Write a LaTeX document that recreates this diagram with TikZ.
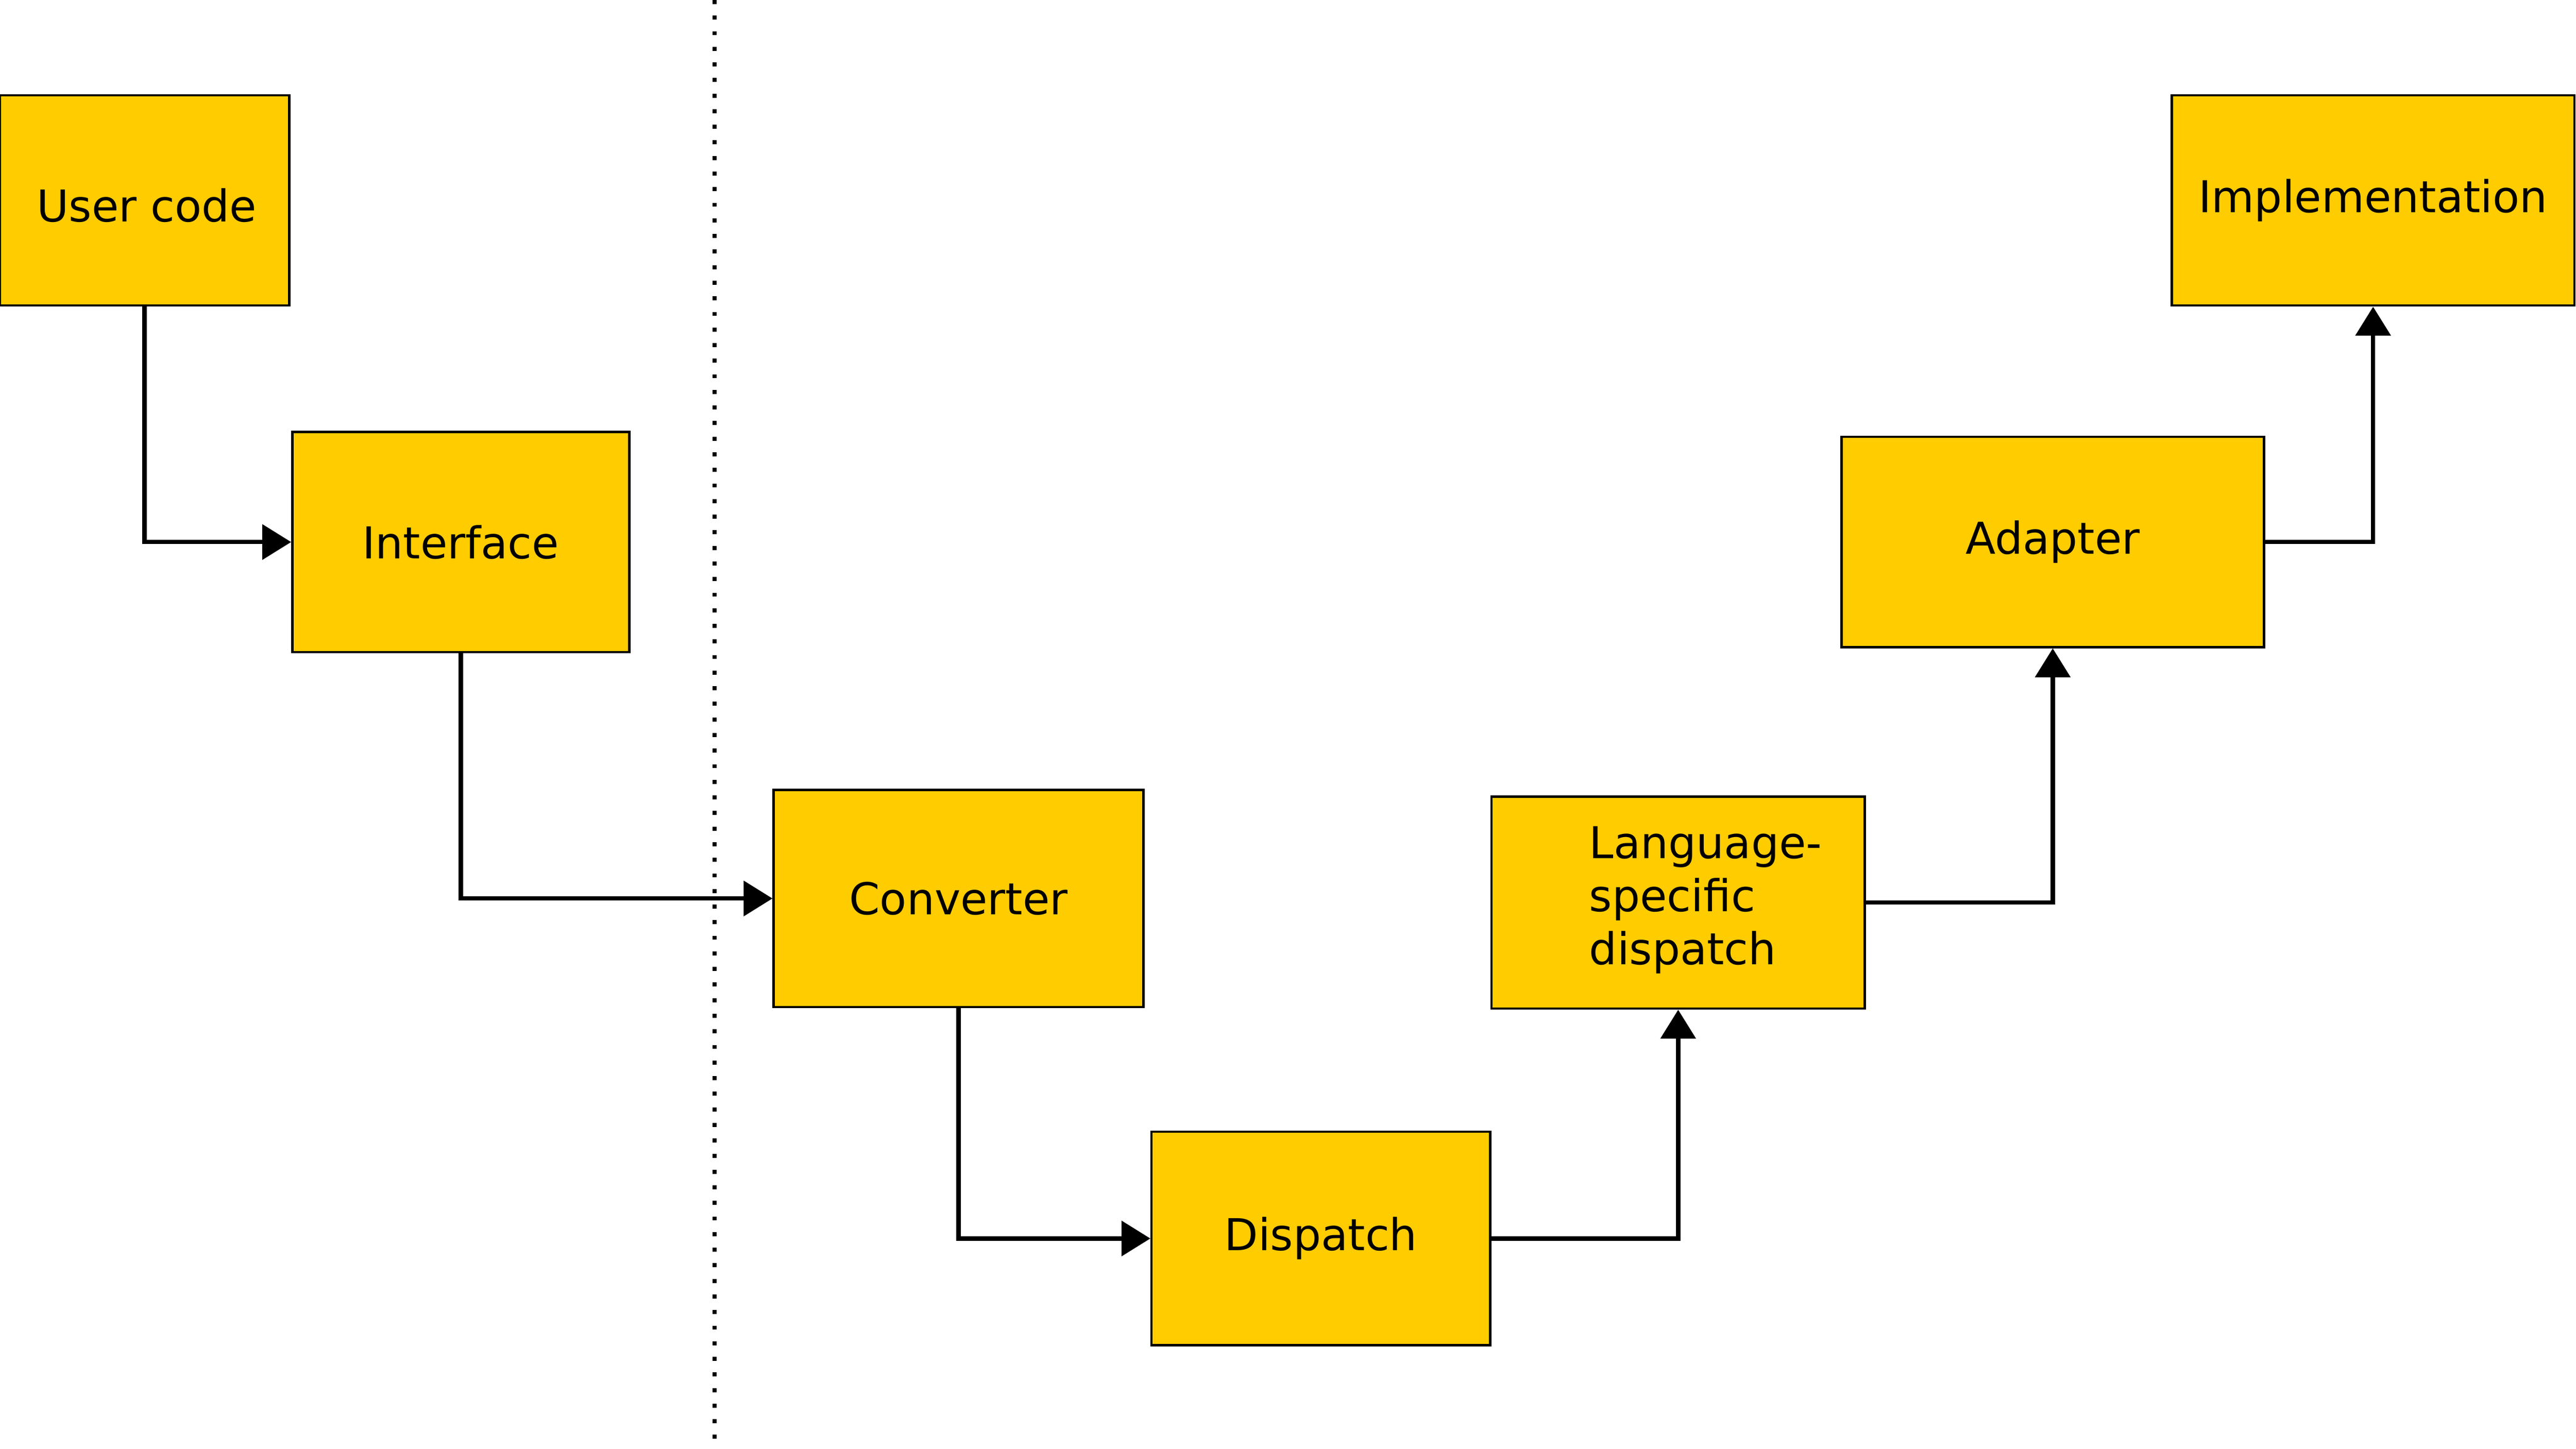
\documentclass[tikz,border=0pt]{standalone}
\usepackage{fontspec}
\setmainfont{DejaVu Sans}
\usetikzlibrary{arrows.meta, positioning}
\definecolor{boxfill}{HTML}{FFCC00}
\tikzset{
    stage/.style={
        rectangle, draw, thin,
        fill=boxfill,
        inner sep=0pt,
        font=\fontsize{7.6}{9.2}\selectfont
    },
    conn/.style={
        line width=0.75pt,
        -{Triangle[length=5pt, width=6pt]},
    },
}
\begin{document}
\begin{tikzpicture}[x=0.01cm, y=-0.01cm]
            \useasboundingbox (0,0) rectangle (1568,882);
            % Boxes
            \node[stage, minimum width=1.76cm, minimum height=1.28cm] (user) at (88,122) {};
            \node[anchor=west, font=\fontsize{7.6}{9.2}\selectfont] (userlbl) at (10,125) {User code};
            \node[stage, minimum width=2.05cm, minimum height=1.34cm] (iface) at (280.5,330) {Interface};
            \node[stage, minimum width=2.25cm, minimum height=1.32cm] (conv) at (583.5,547) {Converter};
            \node[stage, minimum width=2.06cm, minimum height=1.30cm] (disp) at (804,754) {Dispatch};
            \node[stage, minimum width=2.27cm, minimum height=1.29cm] (lsd) at (1021.5,549.5) {};
            \node[anchor=west, align=left, font=\fontsize{7.6}{9.2}\selectfont] (lsdlbl) at (955,548)
                {Language-\\specific\\dispatch};
            \node[stage, minimum width=2.57cm, minimum height=1.28cm] (adapt) at (1249.5,330) {Adapter};
            \node[stage, minimum width=2.45cm, minimum height=1.28cm] (impl) at (1444.5,122) {Implementation};

            % Divider
            \coordinate (divtop) at (435,0);
            \coordinate (divbot) at (435,882);
            \draw[line width=0.7pt, dotted] (divtop) -- (divbot);

            % Flow
            \draw[conn] (user.south) |- (iface.west);
            \draw[conn] (iface.south) |- (conv.west);
            \draw[conn] (conv.south) |- (disp.west);
            \draw[conn] (disp.east) -| (lsd.south);
            \draw[conn] (lsd.east) -| (adapt.south);
            \draw[conn] (adapt.east) -| (impl.south);
\end{tikzpicture}
\end{document}
